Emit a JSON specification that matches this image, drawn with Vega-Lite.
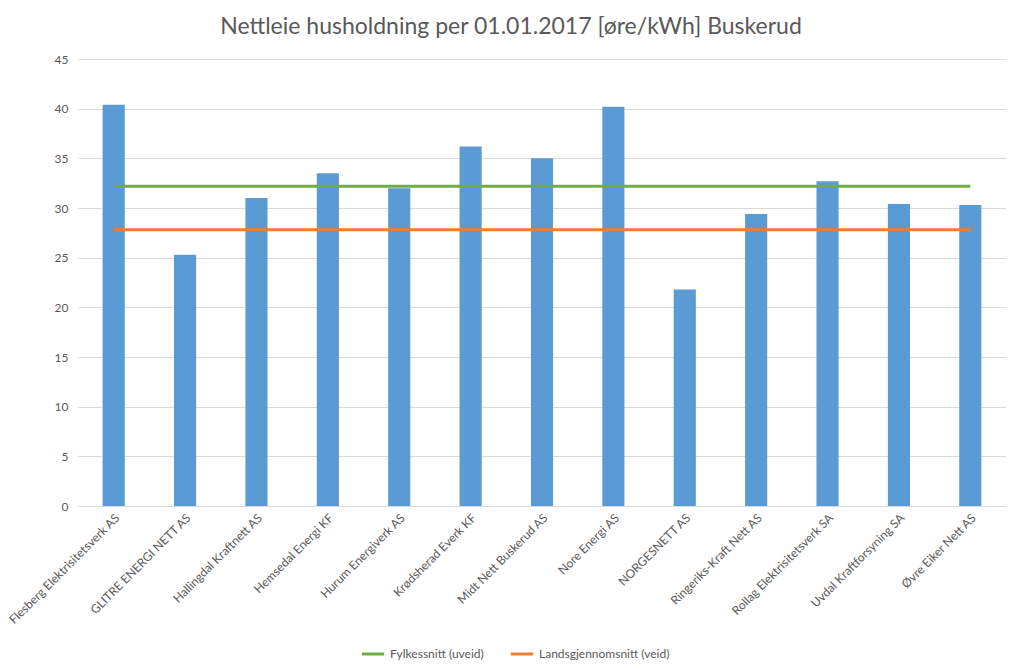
{
  "$schema": "https://vega.github.io/schema/vega-lite/v6.json",
  "autosize": {"type": "none"},
  "width": 928,
  "height": 447,
  "padding": {"left": 78, "top": 59, "right": 17, "bottom": 163},
  "background": "white",
  "title": {"text": "Nettleie husholdning per 01.01.2017 [øre/kWh] Buskerud", "font": "Lato", "fontSize": 23, "fontWeight": "normal", "color": "#595959", "offset": 14, "dx": -31},
  "data": {"values": [
    {"selskap": "Flesberg Elektrisitetsverk AS", "nettleie": 40.4, "Fylkessnitt (uveid)": 32.2, "Landsgjennomsnitt (veid)": 27.8},
    {"selskap": "GLITRE ENERGI NETT AS", "nettleie": 25.3, "Fylkessnitt (uveid)": 32.2, "Landsgjennomsnitt (veid)": 27.8},
    {"selskap": "Hallingdal Kraftnett AS", "nettleie": 31.0, "Fylkessnitt (uveid)": 32.2, "Landsgjennomsnitt (veid)": 27.8},
    {"selskap": "Hemsedal Energi KF", "nettleie": 33.5, "Fylkessnitt (uveid)": 32.2, "Landsgjennomsnitt (veid)": 27.8},
    {"selskap": "Hurum Energiverk AS", "nettleie": 32.0, "Fylkessnitt (uveid)": 32.2, "Landsgjennomsnitt (veid)": 27.8},
    {"selskap": "Krødsherad Everk KF", "nettleie": 36.2, "Fylkessnitt (uveid)": 32.2, "Landsgjennomsnitt (veid)": 27.8},
    {"selskap": "Midt Nett Buskerud AS", "nettleie": 35.0, "Fylkessnitt (uveid)": 32.2, "Landsgjennomsnitt (veid)": 27.8},
    {"selskap": "Nore Energi AS", "nettleie": 40.2, "Fylkessnitt (uveid)": 32.2, "Landsgjennomsnitt (veid)": 27.8},
    {"selskap": "NORGESNETT AS", "nettleie": 21.8, "Fylkessnitt (uveid)": 32.2, "Landsgjennomsnitt (veid)": 27.8},
    {"selskap": "Ringeriks-Kraft Nett AS", "nettleie": 29.4, "Fylkessnitt (uveid)": 32.2, "Landsgjennomsnitt (veid)": 27.8},
    {"selskap": "Rollag Elektrisitetsverk SA", "nettleie": 32.7, "Fylkessnitt (uveid)": 32.2, "Landsgjennomsnitt (veid)": 27.8},
    {"selskap": "Uvdal Kraftforsyning SA", "nettleie": 30.4, "Fylkessnitt (uveid)": 32.2, "Landsgjennomsnitt (veid)": 27.8},
    {"selskap": "Øvre Eiker Nett AS", "nettleie": 30.3, "Fylkessnitt (uveid)": 32.2, "Landsgjennomsnitt (veid)": 27.8}
  ]},
  "encoding": {
    "x": {"field": "selskap", "type": "nominal", "sort": null, "title": null,
      "scale": {"paddingInner": 0.69, "paddingOuter": 0.345},
      "axis": {"labelAngle": -45, "labelAlign": "right", "labelBaseline": "top", "labelFont": "Lato", "labelFontSize": 12, "labelColor": "#595959", "ticks": false, "domainColor": "#D9D9D9", "labelPadding": 6, "labelLimit": 300}}
  },
  "layer": [
    {
      "mark": {"type": "bar", "color": "#5B9BD5"},
      "encoding": {
        "y": {"field": "nettleie", "type": "quantitative", "title": null,
          "scale": {"domain": [0, 45], "nice": false},
          "axis": {"values": [0, 5, 10, 15, 20, 25, 30, 35, 40, 45], "domain": false, "ticks": false, "gridColor": "#D9D9D9", "labelFont": "Lato", "labelFontSize": 12, "labelColor": "#595959", "labelPadding": 10}}
      }
    },
    {
      "transform": [{"fold": ["Fylkessnitt (uveid)", "Landsgjennomsnitt (veid)"], "as": ["serie", "snitt"]}],
      "mark": {"type": "line", "strokeWidth": 3},
      "encoding": {
        "y": {"field": "snitt", "type": "quantitative"},
        "color": {"field": "serie", "type": "nominal",
          "scale": {"domain": ["Fylkessnitt (uveid)", "Landsgjennomsnitt (veid)"], "range": ["#70AD47", "#ED7D31"]},
          "legend": {"title": null, "orient": "none", "direction": "horizontal", "legendX": 282, "legendY": 582, "symbolType": "stroke", "symbolStrokeWidth": 3, "symbolSize": 500, "labelFont": "Lato", "labelFontSize": 12, "labelColor": "#595959", "columnPadding": 20}}
      }
    }
  ],
  "config": {"view": {"stroke": null}}
}
